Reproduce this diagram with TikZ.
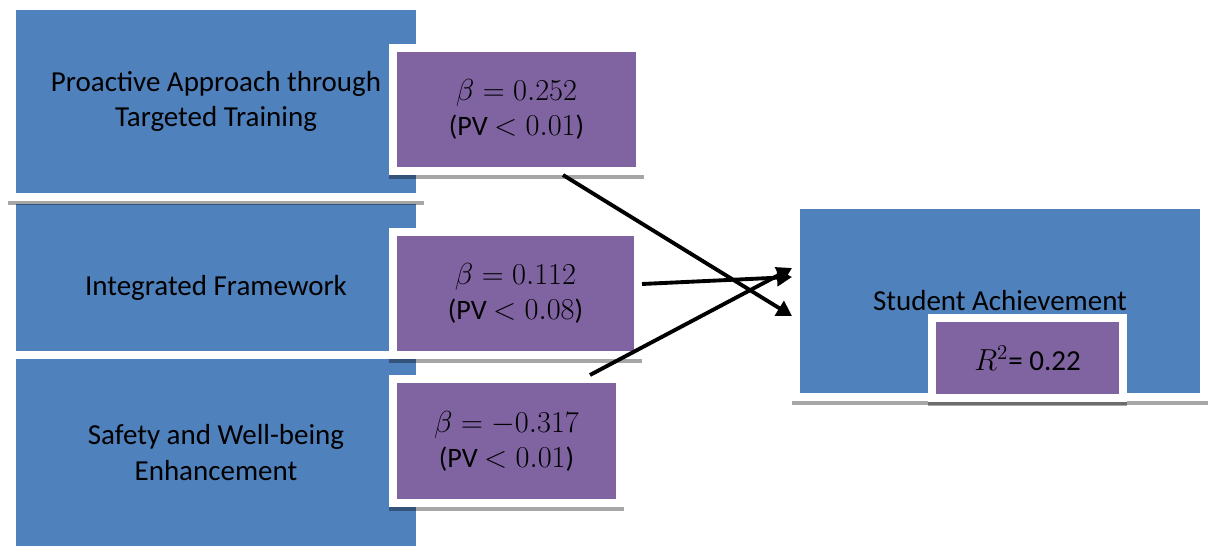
\documentclass[tikz,border=0pt]{standalone}
\usepackage[no-math]{fontspec}
\setmainfont{Carlito}
\usetikzlibrary{arrows.meta}

\definecolor{boxblue}{HTML}{4F81BD}
\definecolor{boxpurple}{HTML}{8064A2}

\tikzset{
  rim/.style={draw=white, line width=4.55pt, inner sep=0pt, align=center,
    font=\fontsize{16.5}{20}\selectfont},
  dropped/.style={preaction={draw=black, opacity=.35, line width=4.55pt,
    transform canvas={yshift=-2.3pt}}},
  factor/.style={rim, fill=boxblue},
  coef/.style={rim, fill=boxpurple, font=\fontsize{16}{20}\selectfont},
  effect/.style={line width=2.2pt, -{Triangle[length=8.5pt,width=9.5pt]}}
}

\begin{document}
\begin{tikzpicture}
\useasboundingbox (0,0) rectangle (24.16,11.08);
% predictors
\node[factor, minimum width=8.16cm, minimum height=3.90cm] (b3) at (4.32,2.03) {Safety and Well-being\\Enhancement};
\node[factor, minimum width=8.16cm, minimum height=3.10cm] (b2) at (4.32,5.53) {};
\node[font=\fontsize{16.5}{20}\selectfont] (b2t) at ([yshift=-0.21cm]b2.center) {Integrated Framework};
\node[factor, dropped, minimum width=8.16cm, minimum height=3.82cm] (b1) at (4.32,9.05) {Proactive Approach through\\Targeted Training};

% coefficients
\node[coef, dropped, minimum width=4.94cm, minimum height=2.46cm] (p1) at (10.33,8.89) {$\beta=0.252$\\(PV $<0.01$)};
\node[coef, dropped, minimum width=4.90cm, minimum height=2.46cm] (p2) at (10.31,5.21) {$\beta=0.112$\\(PV $<0.08$)};
\node[coef, dropped, minimum width=4.54cm, minimum height=2.48cm] (p3) at (10.13,2.26) {$\beta=-0.317$\\(PV $<0.01$)};

% outcome
\node[factor, dropped, minimum width=8.16cm, minimum height=3.84cm] (sa) at (20.00,5.06) {Student Achievement};
\node[coef, dropped, minimum width=3.82cm, minimum height=1.60cm, font=\fontsize{16.5}{20}\selectfont] (r2) at (20.55,3.92) {$R^2$= 0.22};

\draw[effect] ([xshift=0.93cm]p1.south) -- ([yshift=-0.30cm]sa.west);
\draw[effect] ([yshift=0.19cm]p2.east) -- ([yshift=0.48cm]sa.west);
\draw[effect] ([xshift=1.67cm]p3.north) -- ([yshift=0.66cm]sa.west);
\end{tikzpicture}
\end{document}
